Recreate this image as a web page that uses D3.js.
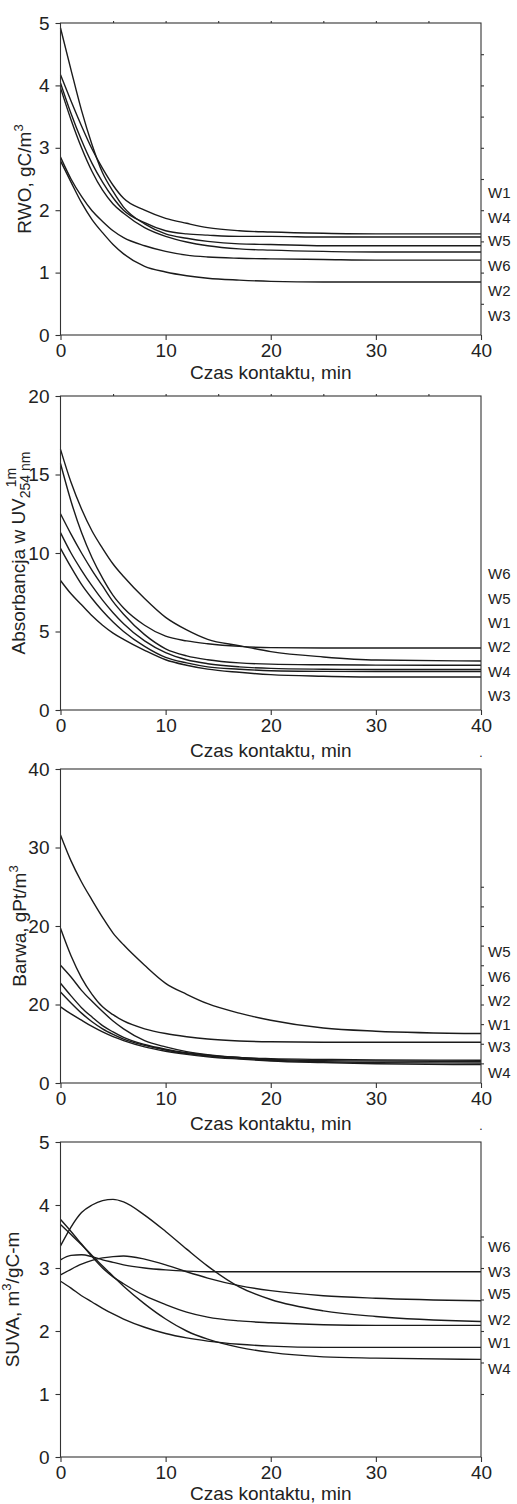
<!DOCTYPE html>
<html>
<head>
<meta charset="utf-8">
<script src="https://cdn.jsdelivr.net/npm/d3@7"></script>
<style>
  body { margin: 0; background: #fff; }
  svg text { font-family: "Liberation Sans", Arial, sans-serif; fill: #222; }
</style>
</head>
<body>
<svg id="chart" width="517" height="1504"></svg>
<script>
// contact time grid (min) shared by every series
const minutes = [0, 1, 2, 3, 4, 5, 6, 8, 10, 12, 14, 17, 20, 25, 30, 40];
const timeTicks = [0, 10, 20, 30, 40];
const timeMinorTicks = [5, 10, 15, 20, 25, 30, 35];

// RWO, gC/m3
const rwoW1 = [4.17, 3.75, 3.35, 2.98, 2.67, 2.40, 2.19, 2.00, 1.87, 1.79, 1.72, 1.67, 1.65, 1.63, 1.62, 1.62];
const rwoW4 = [4.04, 3.55, 3.12, 2.75, 2.45, 2.20, 2.00, 1.80, 1.67, 1.62, 1.60, 1.58, 1.58, 1.57, 1.57, 1.57];
const rwoW5 = [4.92, 4.25, 3.60, 3.05, 2.60, 2.30, 2.05, 1.78, 1.62, 1.55, 1.50, 1.46, 1.45, 1.43, 1.43, 1.43];
const rwoW6 = [3.96, 3.45, 3.00, 2.62, 2.32, 2.10, 1.95, 1.72, 1.58, 1.49, 1.43, 1.38, 1.36, 1.34, 1.33, 1.33];
const rwoW2 = [2.85, 2.50, 2.22, 1.99, 1.82, 1.67, 1.56, 1.43, 1.34, 1.28, 1.25, 1.23, 1.22, 1.21, 1.20, 1.20];
const rwoW3 = [2.79, 2.45, 2.12, 1.85, 1.64, 1.45, 1.30, 1.10, 1.01, 0.95, 0.91, 0.88, 0.86, 0.85, 0.85, 0.85];
const rwoLabels = ["W1", "W4", "W5", "W6", "W2", "W3"];
const rwoLabelAt = [2.28, 1.89, 1.52, 1.12, 0.72, 0.32];
const rwoTicks = [0, 1, 2, 3, 4, 5];
const rwoTickText = ["0", "1", "2", "3", "4", "5"];
const rwoRightTicks = [0.5, 1, 1.5, 2, 2.5, 3, 3.5, 4, 4.5];

// Absorbancja UV254
const uvW6 = [15.7, 13.3, 11.3, 9.7, 8.4, 7.3, 6.5, 5.4, 4.7, 4.4, 4.22, 4.05, 3.97, 3.95, 3.95, 3.95];
const uvW5 = [16.6, 14.5, 12.8, 11.4, 10.3, 9.3, 8.5, 7.1, 5.9, 5.1, 4.5, 4.1, 3.72, 3.38, 3.18, 3.12];
const uvW1 = [12.5, 11.2, 10.0, 8.9, 7.9, 6.9, 6.1, 4.8, 3.9, 3.45, 3.2, 3.0, 2.92, 2.88, 2.86, 2.85];
const uvW2 = [11.3, 10.0, 8.9, 7.9, 7.0, 6.2, 5.5, 4.4, 3.65, 3.2, 2.95, 2.75, 2.65, 2.6, 2.58, 2.58];
const uvW4 = [10.3, 9.1, 8.0, 7.1, 6.3, 5.6, 5.0, 4.05, 3.35, 3.0, 2.75, 2.6, 2.5, 2.46, 2.45, 2.45];
const uvW3 = [8.25, 7.4, 6.7, 6.0, 5.4, 4.9, 4.5, 3.8, 3.2, 2.85, 2.6, 2.4, 2.25, 2.15, 2.1, 2.1];
const uvLabels = ["W6", "W5", "W1", "W2", "W4", "W3"];
const uvLabelAt = [8.7, 7.1, 5.58, 4.03, 2.44, 0.95];
const uvTicks = [0, 5, 10, 15, 20];
const uvTickText = ["0", "5", "10", "15", "20"];
const uvRightTicks = [];

// Barwa, gPt/m3
const colW5 = [31.6, 28.3, 25.6, 23.3, 21.1, 19.1, 17.6, 15.0, 12.7, 11.3, 10.1, 8.9, 8.0, 7.0, 6.6, 6.3];
const colW6 = [19.7, 16.2, 13.4, 11.3, 9.7, 8.7, 7.9, 6.9, 6.3, 5.9, 5.6, 5.35, 5.25, 5.2, 5.2, 5.2];
const colW2 = [15.0, 13.5, 11.8, 10.4, 9.1, 7.9, 6.9, 5.4, 4.6, 4.0, 3.6, 3.25, 3.1, 3.0, 2.95, 2.9];
const colW1 = [12.7, 11.1, 9.6, 8.4, 7.3, 6.5, 5.8, 4.9, 4.3, 3.85, 3.55, 3.25, 3.0, 2.85, 2.8, 2.75];
const colW3 = [11.6, 10.2, 8.9, 7.8, 6.9, 6.2, 5.6, 4.8, 4.2, 3.75, 3.45, 3.15, 2.9, 2.7, 2.6, 2.55];
const colW4 = [9.7, 8.8, 8.0, 7.2, 6.5, 5.9, 5.4, 4.6, 4.05, 3.65, 3.35, 3.05, 2.8, 2.6, 2.45, 2.35];
const colLabels = ["W5", "W6", "W2", "W1", "W3", "W4"];
const colLabelAt = [16.7, 13.6, 10.55, 7.5, 4.7, 1.4];
const colTicks = [0, 10, 20, 30, 40];
const colTickText = ["0", "20", "20", "30", "40"]; // as printed in the source figure
const colRightTicks = [2.5, 5, 7.5, 10, 12.5, 15, 17.5, 20, 22.5, 25];

// SUVA, m3/gC-m
const suvaW6 = [3.13, 3.20, 3.21, 3.18, 3.13, 3.09, 3.05, 3.00, 2.97, 2.95, 2.94, 2.94, 2.94, 2.94, 2.94, 2.94];
const suvaW3 = [2.89, 2.98, 3.06, 3.12, 3.16, 3.18, 3.19, 3.14, 3.05, 2.94, 2.84, 2.72, 2.64, 2.56, 2.52, 2.48];
const suvaW5 = [3.35, 3.65, 3.88, 4.00, 4.07, 4.09, 4.05, 3.84, 3.58, 3.30, 3.03, 2.70, 2.50, 2.32, 2.23, 2.15];
const suvaW2 = [3.77, 3.58, 3.38, 3.18, 3.00, 2.86, 2.75, 2.56, 2.42, 2.30, 2.22, 2.16, 2.13, 2.10, 2.09, 2.09];
const suvaW1 = [2.79, 2.68, 2.56, 2.46, 2.36, 2.27, 2.19, 2.06, 1.96, 1.89, 1.84, 1.79, 1.76, 1.74, 1.74, 1.74];
const suvaW4 = [3.69, 3.53, 3.37, 3.20, 3.03, 2.87, 2.71, 2.43, 2.19, 2.00, 1.87, 1.74, 1.66, 1.59, 1.57, 1.55];
const suvaLabels = ["W6", "W3", "W5", "W2", "W1", "W4"];
const suvaLabelAt = [3.34, 2.95, 2.59, 2.19, 1.81, 1.41];
const suvaTicks = [0, 1, 2, 3, 4, 5];
const suvaTickText = ["0", "1", "2", "3", "4", "5"];
const suvaRightTicks = [1, 1.5, 2, 2.5, 3, 3.5];

const xTitle = "Czas kontaktu, min";

// layout of the four stacked panels
const panels = [
  { top: 23, bottom: 335, yMax: 5, ticks: rwoTicks, tickText: rwoTickText, right: rwoRightTicks,
    minorTop: true, series: [rwoW1, rwoW4, rwoW5, rwoW6, rwoW2, rwoW3],
    labels: rwoLabels, labelAt: rwoLabelAt, titleX: 31, xTitleGap: 44, dot: false,
    title: [{ t: "RWO, gC/m" }, { t: "3", k: "sup" }] },
  { top: 396, bottom: 710, yMax: 20, ticks: uvTicks, tickText: uvTickText, right: uvRightTicks,
    minorTop: true, series: [uvW6, uvW5, uvW1, uvW2, uvW4, uvW3],
    labels: uvLabels, labelAt: uvLabelAt, titleX: 25, xTitleGap: 47, dot: false,
    title: [{ t: "Absorbancja w UV" }, { t: "1m", k: "sup2" }, { t: "254 nm", k: "sub2" }] },
  { top: 769, bottom: 1083, yMax: 40, ticks: colTicks, tickText: colTickText, right: colRightTicks,
    minorTop: false, series: [colW5, colW6, colW2, colW1, colW3, colW4],
    labels: colLabels, labelAt: colLabelAt, titleX: 26, xTitleGap: 47, dot: true,
    title: [{ t: "Barwa, gPt/m" }, { t: "3", k: "sup" }] },
  { top: 1142, bottom: 1457, yMax: 5, ticks: suvaTicks, tickText: suvaTickText, right: suvaRightTicks,
    minorTop: false, series: [suvaW6, suvaW3, suvaW5, suvaW2, suvaW1, suvaW4],
    labels: suvaLabels, labelAt: suvaLabelAt, titleX: 19, xTitleGap: 43, dot: true,
    title: [{ t: "SUVA, m" }, { t: "3", k: "sup" }, { t: "/gC-m", k: "back" }] }
];

const svg = d3.select("#chart");
const x = d3.scaleLinear().domain([0, 40]).range([60.5, 481]);
const axisColor = "#333";
const lineColor = "#1b1b1b";

panels.forEach((p) => {
  const y = d3.scaleLinear().domain([0, p.yMax]).range([p.bottom, p.top]);
  const g = svg.append("g");

  // curves
  const line = d3.line()
    .x((d, i) => x(minutes[i]))
    .y((d) => y(d))
    .curve(d3.curveMonotoneX);
  g.selectAll("path.curve")
    .data(p.series)
    .enter()
    .append("path")
    .attr("class", "curve")
    .attr("d", line)
    .attr("fill", "none")
    .attr("stroke", lineColor)
    .attr("stroke-width", 1.4);

  // frame
  g.append("rect")
    .attr("x", x(0)).attr("y", p.top)
    .attr("width", x(40) - x(0)).attr("height", p.bottom - p.top)
    .attr("fill", "none").attr("stroke", axisColor).attr("stroke-width", 1.1);

  const styleAxis = (a) => {
    a.select(".domain").remove();
    a.selectAll(".tick line").attr("stroke", axisColor).attr("stroke-width", 1.1);
    a.selectAll("text").attr("font-size", 19).attr("font-family", null).attr("fill", "#222");
  };

  g.append("g")
    .attr("transform", `translate(${x(0)},0)`)
    .call(d3.axisLeft(y).tickValues(p.ticks).tickSize(5).tickPadding(6)
      .tickFormat((d, i) => p.tickText[i]))
    .call(styleAxis);

  g.append("g")
    .attr("transform", `translate(0,${p.bottom})`)
    .call(d3.axisBottom(x).tickValues(timeTicks).tickSize(5).tickPadding(4))
    .call(styleAxis);

  g.append("g")
    .attr("transform", `translate(${x(40)},0)`)
    .call(d3.axisRight(y).tickValues(p.right).tickSize(3).tickFormat(""))
    .call(styleAxis);

  if (p.minorTop) {
    g.append("g")
      .attr("transform", `translate(0,${p.top})`)
      .call(d3.axisTop(x).tickValues(timeMinorTicks).tickSize(2).tickFormat(""))
      .call(styleAxis);
  }

  // series labels on the right
  g.selectAll("text.lab")
    .data(p.labels)
    .enter()
    .append("text")
    .attr("class", "lab")
    .attr("x", x(40) + 7)
    .attr("y", (d, i) => y(p.labelAt[i]))
    .attr("dominant-baseline", "central")
    .attr("font-size", 15)
    .text((d) => d);

  // x title
  g.append("text")
    .attr("x", (x(0) + x(40)) / 2)
    .attr("y", p.bottom + p.xTitleGap)
    .attr("text-anchor", "middle")
    .attr("font-size", 19)
    .text(xTitle);

  // y title with super/subscripts
  const cy = (p.top + p.bottom) / 2;
  const t = g.append("text")
    .attr("transform", `translate(${p.titleX},${cy}) rotate(-90)`)
    .attr("text-anchor", "middle")
    .attr("font-size", 19);
  let supW = 0;
  p.title.forEach((part) => {
    const s = t.append("tspan").text(part.t);
    if (part.k === "sup") s.attr("font-size", 13).attr("dy", -8);
    if (part.k === "back") s.attr("dy", 8);
    if (part.k === "sup2") {
      s.attr("font-size", 14).attr("dy", -9).attr("dx", 11);
      supW = s.node().getComputedTextLength();
    }
    if (part.k === "sub2") s.attr("font-size", 14).attr("dy", 14).attr("dx", -(supW + 11));
  });

  if (p.dot) {
    g.append("text")
      .attr("x", x(40))
      .attr("y", p.top - 12)
      .attr("text-anchor", "middle")
      .attr("font-size", 12)
      .text(".");
  }
});
</script>
</body>
</html>
